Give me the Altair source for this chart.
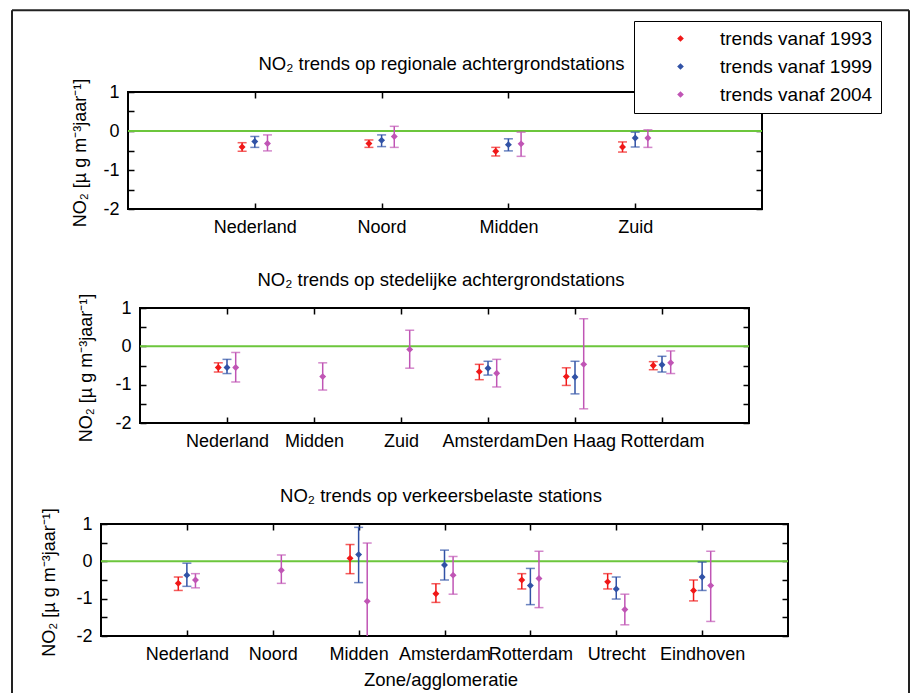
import altair as alt
import pandas as pd

FONT = "Liberation Sans"
SERIES = ["trends vanaf 1993", "trends vanaf 1999", "trends vanaf 2004"]
COLORS = ["#f01818", "#3152a6", "#c055b5"]
OFFSETS = [-0.1, 0.0, 0.1]
GREEN = "#6cc63c"
YTITLE = "NO\u2082 [\u00b5 g m\u207b\u00b3jaar\u207b\u00b9]"

# ---- panel 1: regionale achtergrondstations
p1_cats = ["Nederland", "Noord", "Midden", "Zuid"]
p1_val_1993 = [-0.41, -0.32, -0.52, -0.41]
p1_lo_1993 = [-0.52, -0.42, -0.64, -0.54]
p1_hi_1993 = [-0.30, -0.23, -0.42, -0.28]
p1_val_1999 = [-0.27, -0.24, -0.35, -0.18]
p1_lo_1999 = [-0.42, -0.40, -0.51, -0.41]
p1_hi_1999 = [-0.14, -0.10, -0.20, -0.03]
p1_val_2004 = [-0.32, -0.14, -0.33, -0.18]
p1_lo_2004 = [-0.51, -0.42, -0.65, -0.42]
p1_hi_2004 = [-0.10, 0.12, -0.03, 0.03]

# ---- panel 2: stedelijke achtergrondstations
p2_cats = ["Nederland", "Midden", "Zuid", "Amsterdam", "Den Haag", "Rotterdam"]
p2_val_1993 = [-0.55, None, None, -0.66, -0.79, -0.50]
p2_lo_1993 = [-0.67, None, None, -0.87, -1.02, -0.61]
p2_hi_1993 = [-0.43, None, None, -0.47, -0.56, -0.40]
p2_val_1999 = [-0.55, None, None, -0.57, -0.80, -0.48]
p2_lo_1999 = [-0.71, None, None, -0.75, -1.24, -0.67]
p2_hi_1999 = [-0.34, None, None, -0.39, -0.39, -0.26]
p2_val_2004 = [-0.55, -0.79, -0.08, -0.70, -0.47, -0.43]
p2_lo_2004 = [-0.93, -1.14, -0.57, -1.06, -1.63, -0.71]
p2_hi_2004 = [-0.16, -0.43, 0.42, -0.34, 0.72, -0.12]

# ---- panel 3: verkeersbelaste stations
p3_cats = ["Nederland", "Noord", "Midden", "Amsterdam", "Rotterdam", "Utrecht", "Eindhoven"]
p3_val_1993 = [-0.59, None, 0.08, -0.87, -0.50, -0.55, -0.78]
p3_lo_1993 = [-0.78, None, -0.33, -1.10, -0.74, -0.74, -1.06]
p3_hi_1993 = [-0.42, None, 0.45, -0.60, -0.33, -0.33, -0.50]
p3_val_1999 = [-0.37, None, 0.18, -0.10, -0.65, -0.74, -0.42]
p3_lo_1999 = [-0.67, None, -0.57, -0.50, -1.16, -1.01, -0.78]
p3_hi_1999 = [-0.05, None, 0.91, 0.30, -0.19, -0.42, -0.02]
p3_val_2004 = [-0.50, -0.24, -1.07, -0.37, -0.46, -1.29, -0.65]
p3_lo_2004 = [-0.71, -0.59, -2.60, -0.88, -1.24, -1.70, -1.61]
p3_hi_2004 = [-0.33, 0.17, 0.49, 0.13, 0.27, -0.88, 0.27]


def build(cats, vals, los, his):
    out = []
    for s in range(3):
        for i in range(len(cats)):
            if vals[s][i] is None:
                continue
            out.append({"series": SERIES[s], "cat": cats[i],
                        "pos": i + 1 + OFFSETS[s],
                        "val": vals[s][i], "lo": los[s][i], "hi": his[s][i]})
    return pd.DataFrame(out)


def panel(cats, df, width, height, title, ytitle_x, legend=None,
          xtitle=None, extra=()):
    n = len(cats)
    xscale = alt.Scale(domain=[0, n + 1], nice=False, zero=False)
    yscale = alt.Scale(domain=[-2, 1], nice=False, zero=False)
    cscale = alt.Scale(domain=SERIES, range=COLORS)
    names = "[" + ",".join("'%s'" % c for c in cats) + "]"
    yvals = [-2, -1.5, -1, -0.5, 0, 0.5, 1]
    xb_kw = dict(orient="bottom", values=list(range(1, n + 1)),
                 labelExpr=names + "[round(datum.value) - 1]",
                 tickSize=6, offset=-6, domain=False, grid=False,
                 labelPadding=9, labelFontSize=18, labelOverlap=False,
                 labelFlush=False, labelLimit=400)
    if xtitle:
        xb = alt.Axis(title=xtitle, titleFontSize=18.5,
                      titleFontWeight="normal", titleBaseline="alphabetic",
                      titleAlign="center", titleX=width / 2 - 4, titleY=55.5,
                      **xb_kw)
    else:
        xb = alt.Axis(title=None, **xb_kw)
    xt = alt.Axis(orient="top", values=list(range(1, n + 1)), labels=False,
                  tickSize=6, offset=-6, domain=False, grid=False,
                  title=title, titleFontSize=18.5, titleFontWeight="normal",
                  titleBaseline="alphabetic", titleAlign="center",
                  titleX=width / 2 - 4, titleY=-28.7)
    yl = alt.Axis(orient="left", values=yvals,
                  labelExpr="datum.value % 1 == 0 ? (datum.value < 0 ? '-' + abs(datum.value) : '' + datum.value) : ''",
                  tickSize=6, offset=-6, domain=False, grid=False,
                  labelPadding=9, labelFontSize=18, title=YTITLE,
                  titleFontSize=18, titleFontWeight="normal",
                  titleAngle=270, titleAlign="center",
                  titleBaseline="alphabetic", titleX=ytitle_x,
                  titleY=height / 2 + 2)
    yr = alt.Axis(orient="right", values=yvals, labels=False, tickSize=6,
                  offset=-6, domain=False, grid=False, title=None)

    base = alt.Chart(df)
    zero = alt.Chart(pd.DataFrame({"z": [0]})).mark_rule(
        color=GREEN, strokeWidth=2).encode(
        y=alt.Y("z:Q", scale=yscale, axis=None))
    layers = [zero]
    for s in range(3):
        sub = base.transform_filter(alt.datum.series == SERIES[s])
        layers.append(sub.mark_rule(color=COLORS[s], strokeWidth=1.5,
                                    clip=True).encode(
            x=alt.X("pos:Q", scale=xscale, axis=xt if s == 0 else None),
            y=alt.Y("lo:Q", scale=yscale, axis=yr if s == 0 else None),
            y2="hi:Q"))
        for fld in ("lo", "hi"):
            layers.append(sub.mark_tick(orient="horizontal", size=9,
                                        thickness=1.5, color=COLORS[s],
                                        clip=True).encode(
                x=alt.X("pos:Q", scale=xscale, axis=None),
                y=alt.Y(fld + ":Q", scale=yscale, axis=None)))
    if legend is not None:
        col = alt.Color("series:N", scale=cscale, legend=legend)
    else:
        col = alt.Color("series:N", scale=cscale, legend=None)
    pts = base.mark_point(shape="diamond", filled=True, size=48,
                          opacity=1).encode(
        x=alt.X("pos:Q", scale=xscale, axis=xb),
        y=alt.Y("val:Q", scale=yscale, axis=yl),
        color=col)
    layers.append(pts)
    layers.extend(extra)
    return alt.layer(*layers).properties(width=width, height=height)


df1 = build(p1_cats, [p1_val_1993, p1_val_1999, p1_val_2004],
            [p1_lo_1993, p1_lo_1999, p1_lo_2004],
            [p1_hi_1993, p1_hi_1999, p1_hi_2004])
df2 = build(p2_cats, [p2_val_1993, p2_val_1999, p2_val_2004],
            [p2_lo_1993, p2_lo_1999, p2_lo_2004],
            [p2_hi_1993, p2_hi_1999, p2_hi_2004])
df3 = build(p3_cats, [p3_val_1993, p3_val_1999, p3_val_2004],
            [p3_lo_1993, p3_lo_1999, p3_lo_2004],
            [p3_hi_1993, p3_hi_1999, p3_hi_2004])

legend = alt.Legend(orient="none", legendX=506, legendY=-71, title=None,
                    fillColor="white", strokeColor="black", padding=8,
                    symbolOffset=29, labelOffset=30, labelFontSize=19,
                    labelFont=FONT, labelColor="black", rowPadding=8,
                    symbolType="diamond", symbolSize=45,
                    symbolStrokeWidth=0, cornerRadius=0, labelLimit=400)

one = pd.DataFrame({"a": [0]})
frame_left = alt.Chart(one).mark_rule(color="#222222", strokeWidth=2).encode(
    x=alt.value(-89), y=alt.value(-513.7), y2=alt.value(169))
frame_right = alt.Chart(one).mark_rule(color="#222222", strokeWidth=2).encode(
    x=alt.value(808), y=alt.value(-513.7), y2=alt.value(169))
frame_top = alt.Chart(one).mark_rule(color="#222222", strokeWidth=2).encode(
    x=alt.value(-89), x2=alt.value(808), y=alt.value(-513.7))


def spacer(w):
    return alt.Chart(one).mark_point(opacity=0).encode(
        x=alt.value(0), y=alt.value(0)
    ).properties(width=w, height=1,
                 view=alt.ViewBackground(stroke="transparent"))


p1 = panel(p1_cats, df1, 634, 117,
           "NO\u2082 trends op regionale achtergrondstations", -49,
           legend=legend)
p2 = panel(p2_cats, df2, 609, 115,
           "NO\u2082 trends op stedelijke achtergrondstations", -55)
p3 = panel(p3_cats, df3, 687, 112,
           "NO\u2082 trends op verkeersbelaste stations", -52.7,
           xtitle="Zone/agglomeratie",
           extra=(frame_left, frame_right, frame_top))

row1 = alt.hconcat(spacer(26.5), p1, spacing=0, bounds="flush").resolve_scale(
    x="independent", y="independent", color="independent"
).resolve_legend(color="independent")
row2 = alt.hconcat(spacer(39), p2, spacing=0, bounds="flush").resolve_scale(
    x="independent", y="independent", color="independent"
).resolve_legend(color="independent")

# nested rows count with zero height in the flush layout, so the spacing
# is the distance between the panel tops
chart = alt.vconcat(row1, row2, p3, spacing=216, bounds="flush").resolve_scale(
    x="independent", y="independent", color="independent"
).resolve_legend(color="independent").configure(
    padding={"left": 10, "top": 8, "right": 0, "bottom": 0}, font=FONT,
    background="white"
).configure_view(stroke="black", strokeWidth=2).configure_axis(
    labelFont=FONT, titleFont=FONT, labelColor="black", titleColor="black",
    tickColor="black", tickWidth=1.5
)

chart.save("out.html", embed_options={"renderer": "svg", "actions": False})
